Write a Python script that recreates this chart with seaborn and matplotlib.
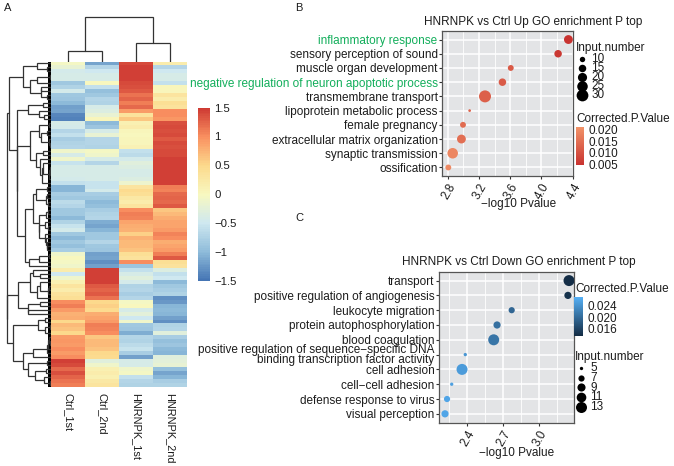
import numpy as np
import pandas as pd
import matplotlib
matplotlib.use("Agg")
import matplotlib.pyplot as plt
from matplotlib.cm import ScalarMappable
from matplotlib.colors import LinearSegmentedColormap, Normalize
import seaborn as sns

# ----- Panel A: heatmap rows, top to bottom -----
samples = ["Ctrl_1st", "Ctrl_2nd", "HNRNPK_1st", "HNRNPK_2nd"]
ctrl_1st = [-0.05, -0.2, -0.45, -0.42, -0.42, -0.85, -0.75, -0.45, -0.85, -0.9, -1.0, -1.2, -1.15, -1.35,
            -1.4, -0.4, -0.45, -0.7, -0.6, -0.8, -0.75, -0.7, -0.1, -0.4, -0.1, -0.55, -0.42, -0.42,
            -0.42, -0.45, -0.6, -1.05, -1.05, -0.8, -0.85, -0.65, -0.7, -0.85, -0.85, -1.0, -0.75, -0.55,
            -0.45, -0.85, -1.0, -0.85, -0.95, -0.8, -0.1, 0.0, -0.05, -0.1, 0.2, -0.5, -0.1,
            0.15, 0.3, 0.2, 0.35, 0.4, 1.0, 1.1, 0.9, 0.75, 0.8, 0.5, 0.7, 0.65, 0.5, 0.9, 0.95, 0.9,
            1.0, 0.9, 1.0, 1.45, 1.4, 1.2, 1.35, 1.25, 1.15, 1.1]
ctrl_2nd = [-1.15, -0.7, -0.5, -0.42, -0.42, 0.0, -0.6, -0.95, -0.85, -0.7, -0.75, -0.42, -0.35, -0.2,
            0.05, -1.0, -0.9, -0.4, -0.2, -0.7, -0.7, -0.75, -0.05, -0.1, -0.42, -0.7, -0.42, -0.42,
            -0.42, -0.42, -0.55, -0.55, -0.45, -0.8, -0.85, -1.0, -0.95, -0.8, -0.75, -0.7, -1.1, -1.15,
            -1.05, -0.85, -0.85, -0.7, -0.85, -0.9, -1.2, -1.15, -1.3, -1.2, 1.45, 1.45, 1.45,
            1.45, 1.3, 1.25, 1.3, 1.15, 0.5, 0.55, 0.45, 0.8, 0.85, 0.9, 1.1, 1.05, 1.0, 0.6, 0.7, 0.7,
            0.65, 0.5, 0.45, -0.3, -0.1, 0.15, 0.2, 0.15, 0.25, 0.3]
hnrnpk_1st = [1.4, 1.45, 1.45, 1.45, 1.45, 1.4, 1.35, 1.3, 1.15, 1.25, 1.1, 1.2, 0.9, 0.35,
              0.6, 0.15, 0.2, 0.05, 0.0, 0.05, 0.05, 0.1, -0.6, -0.65, -0.45, -0.3, -0.35, -0.42,
              -0.42, -0.35, -0.15, 0.3, 0.45, 0.4, 0.25, 0.2, 0.3, 1.0, 1.1, 1.05, 0.85, 0.8,
              0.75, 0.55, 0.75, 0.7, 0.7, 0.65, 0.4, 0.35, 1.0, -0.9, -0.6, -0.4, -0.3,
              -0.45, -0.75, -0.7, -0.8, -0.7, -0.05, 0.0, -0.4, -0.25, -0.5, -0.1, -0.85, -0.9, -1.1, -0.7,
              -0.75, -0.65, -0.55, -0.8, -1.2, -0.42, -0.4, -0.1, -0.05, -0.6, -0.7, -0.75]
hnrnpk_2nd = [0.2, -0.7, -0.5, -0.42, -0.42, -0.6, 0.05, 0.05, 0.3, 0.2, 0.4, 0.35, 1.0, 1.0,
              0.95, 1.35, 1.4, 1.35, 1.4, 1.3, 1.4, 1.35, 1.4, 1.4, 1.45, 1.45, 1.45, 1.45,
              1.45, 1.45, 1.45, 1.1, 1.05, 1.2, 1.25, 1.2, 1.3, 0.6, 0.7, 0.8, 0.85, 0.85,
              0.9, 1.05, 1.0, 0.8, 0.85, 0.9, 1.1, 1.3, 0.4, 0.35, -0.35, -0.6, -0.5,
              -1.0, -0.85, -0.8, -0.75, -1.3, -1.25, -1.05, -1.0, -1.05, -1.2, -1.3, -0.75, -0.7, -0.3, -0.8,
              -0.95, -0.9, -1.0, -1.05, -0.3, -0.25, -0.2, -0.95, -1.15, -1.05, -0.8, -0.75]
cbar_ticks = [-1.5, -1, -0.5, 0, 0.5, 1, 1.5]
cbar_labels = ["\u22121.5", "\u22121", "\u22120.5", "0", "0.5", "1", "1.5"]

# merge distances of the two dendrograms, (distance, child, child)
# a row leaf is (distance, first_row, stop_row) and gets clustered from the values
col_tree = (45, (11, 0, 1), (18.4, 2, 3))
row_tree = (44.5,
            (42,
             (28.3, (14, 0, 3), (21, 3, 10)),
             (34.3,
              (23, 10, 15),
              (34,
               (21, (12, 15, 22), (15, 22, 31)),
               (26, (18, 31, 48), (22, 48, 52))))),
            (44,
             (32.7, (21, 52, 60), (23, 60, 64)),
             (38.3, (13, 64, 69), (28.3, (18, 69, 75), (23.3, 75, 82)))))

# ----- Panel B -----
up_terms = ["inflammatory response", "sensory perception of sound", "muscle organ development",
            "negative regulation of neuron apoptotic process", "transmembrane transport",
            "lipoprotein metabolic process", "female pregnancy", "extracellular matrix organization",
            "synaptic transmission", "ossification"]
up_log10p = [4.345, 4.213, 3.607, 3.50, 3.277, 3.08, 2.995, 2.975, 2.863, 2.807]
up_input = [19, 15, 11, 15, 31, 6, 11, 19, 25, 11]
up_padj = [0.0048, 0.0056, 0.0115, 0.0115, 0.0125, 0.013, 0.0145, 0.015, 0.019, 0.0195]
up_green = ["inflammatory response", "negative regulation of neuron apoptotic process"]
up_xticks = [2.8, 3.2, 3.6, 4.0, 4.4]
up_size_keys = [10, 15, 20, 25, 30]
up_color_keys = [0.020, 0.015, 0.010, 0.005]

# ----- Panel C -----
down_terms = ["transport", "positive regulation of angiogenesis", "leukocyte migration",
              "protein autophosphorylation", "blood coagulation",
              "positive regulation of sequence\u2212specific DNA\nbinding transcription factor activity",
              "cell adhesion", "cell\u2212cell adhesion", "defense response to virus", "visual perception"]
down_log10p = [3.248, 3.239, 2.77, 2.648, 2.62, 2.383, 2.356, 2.27, 2.231, 2.214]
down_input = [13, 8, 7, 8, 13, 5, 13, 5, 7, 8]
down_padj = [0.0135, 0.014, 0.0195, 0.0205, 0.021, 0.0245, 0.025, 0.0255, 0.026, 0.026]
down_xticks = [2.4, 2.7, 3.0]
down_size_keys = [5, 7, 9, 11, 13]
down_color_keys = [0.024, 0.020, 0.016]

W, H = 674, 466
TEXT = "#1c1c1c"
sns.set_theme(style="white")
plt.rcParams["font.family"] = ["Liberation Sans", "DejaVu Sans"]
plt.rcParams["text.color"] = TEXT
FS = 8.5

fig = plt.figure(figsize=(W / 100, H / 100), dpi=100)


def px_axes(x0, y0, x1, y1):
    return fig.add_axes([x0 / W, 1 - y1 / H, (x1 - x0) / W, (y1 - y0) / H])


# ----- heatmap -----
heat_df = pd.DataFrame({"Ctrl_1st": ctrl_1st, "Ctrl_2nd": ctrl_2nd,
                        "HNRNPK_1st": hnrnpk_1st, "HNRNPK_2nd": hnrnpk_2nd})
heat_cmap = LinearSegmentedColormap.from_list(
    "pheat", ["#4575B4", "#8FBCDA", "#CFE8F0", "#F8F8C0", "#FCD98C", "#F99060", "#CE3A33"], N=100)
ax_heat = px_axes(51, 61.5, 187, 387)
ax_cbar = px_axes(198, 107.5, 210, 281)
sns.heatmap(heat_df, ax=ax_heat, cmap=heat_cmap, vmin=-1.5, vmax=1.5, cbar_ax=ax_cbar,
            yticklabels=False, xticklabels=samples)
ax_heat.tick_params(axis="x", length=0, pad=4)
plt.setp(ax_heat.get_xticklabels(), rotation=-90, ha="center", va="top", fontsize=7.9, color=TEXT)
ax_heat.set_xlabel("")
ax_cbar.set_yticks(cbar_ticks, cbar_labels)
ax_cbar.tick_params(length=0, pad=3, labelsize=8.2, labelcolor=TEXT)
ax_heat.collections[0].colorbar.outline.set_visible(False)


# ----- dendrograms -----
def connect(ax, a, b, h, vertical=False):
    hs = [a[0], h, h, b[0]]
    ps = [a[1], a[1], b[1], b[1]]
    if vertical:
        ax.plot(ps, hs, color="#333333", lw=0.9, solid_joinstyle="miter")
    else:
        ax.plot(hs, ps, color="#333333", lw=0.9, solid_joinstyle="miter")
    return h, (a[1] + b[1]) / 2


def cluster_rows(ax, values, start, stop, top):
    # neighbour-only average linkage so the rows stay in the order of the heatmap
    groups = [[i] for i in range(start, stop)]
    merges = []
    while len(groups) > 1:
        d = [np.linalg.norm(values[groups[i]].mean(axis=0) - values[groups[i + 1]].mean(axis=0))
             for i in range(len(groups) - 1)]
        k = int(np.argmin(d))
        merges.append((groups[k], groups[k + 1], d[k]))
        groups[k:k + 2] = [groups[k] + groups[k + 1]]
    peak = max(m[2] for m in merges) if merges else 1
    nodes = {(i,): (0.0, i + 0.5) for i in range(start, stop)}
    for left, right, d in merges:
        a, b = nodes[tuple(left)], nodes[tuple(right)]
        h = top * (d / peak) ** 1.3 if d < peak else top
        h = min(top, max(h, max(a[0], b[0]) + 0.7))
        nodes[tuple(left + right)] = connect(ax, a, b, h)
    return nodes[tuple(range(start, stop))]


def draw_row_tree(ax, node, values):
    if isinstance(node[1], tuple):
        a = draw_row_tree(ax, node[1], values)
        b = draw_row_tree(ax, node[2], values)
        return connect(ax, a, b, node[0])
    return cluster_rows(ax, values, node[1], node[2], node[0])


def draw_col_tree(ax, node):
    if isinstance(node[1], tuple):
        a = draw_col_tree(ax, node[1])
        b = draw_col_tree(ax, node[2])
    else:
        a, b = (0, node[1] + 0.5), (0, node[2] + 0.5)
    return connect(ax, a, b, node[0], vertical=True)


ax_rows = px_axes(5, 61.5, 51, 387)
draw_row_tree(ax_rows, row_tree, heat_df.to_numpy())
ax_rows.axvspan(0, 2.6, color="black", lw=0)  # leaf ends, too dense to tell apart
ax_rows.set_xlim(46, 0)
ax_rows.set_ylim(len(heat_df), 0)
ax_rows.axis("off")

ax_cols = px_axes(51, 15, 187, 61.5)
draw_col_tree(ax_cols, col_tree)
ax_cols.set_xlim(0, 4)
ax_cols.set_ylim(0, 46.5)
ax_cols.axis("off")


# ----- dot plots -----
def dot_panel(rect, terms, log10p, counts, padj, xticks, xlim, minor, cmap, hue_norm,
              sizes, size_norm, title, title_x, title_pad, label_x):
    ax = px_axes(*rect)
    df = pd.DataFrame({"term": terms, "log10p": log10p, "input": counts, "padj": padj})
    sns.scatterplot(data=df, x="log10p", y="term", hue="padj", palette=cmap, hue_norm=hue_norm,
                    size="input", sizes=sizes, size_norm=size_norm, linewidth=0, alpha=1,
                    legend=False, ax=ax, zorder=3)
    ax.set_facecolor("#E3E4E6")
    ax.set_xlim(*xlim)
    ax.set_ylim(len(terms) - 0.4, -0.6)
    ax.set_xticks(xticks)
    ax.set_xticks(minor, minor=True)
    ax.set_xticklabels([f"{t:.1f}" for t in xticks], rotation=60, ha="right", rotation_mode="anchor",
                       fontsize=FS, color=TEXT)
    ax.grid(which="major", color="white", lw=1.1)
    ax.grid(which="minor", axis="x", color="white", lw=0.6)
    ax.set_axisbelow(True)
    ax.tick_params(axis="x", which="major", length=2.2, width=0.8, color="#333333", pad=1.5, bottom=True)
    ax.tick_params(axis="x", which="minor", length=0)
    ax.tick_params(axis="y", length=2.2, width=0.8, color="#333333", pad=1.2, labelsize=FS, left=True)
    for s in ax.spines.values():
        s.set_color("#555555")
        s.set_linewidth(0.9)
    ax.set_ylabel("")
    ax.set_xlabel("\u2212log10 Pvalue", fontsize=FS, color=TEXT)
    ax.xaxis.set_label_coords(label_x[0], label_x[1])
    ax.set_title(title, fontsize=FS, color=TEXT, x=title_x, pad=title_pad)
    return ax


def size_legend(ax, keys, sizes, size_norm, x, y, spacing, title_y):
    lo, hi = size_norm
    handles = [ax.scatter([], [], s=sizes[0] + (sizes[1] - sizes[0]) * (k - lo) / (hi - lo), color="black",
                          linewidths=0) for k in keys]
    # the title is separate, a legend title would be pulled in by the negative spacing
    fig.text(x / W, 1 - title_y / H, "Input.number", fontsize=FS, color=TEXT, va="center", ha="left")
    return ax.legend(handles, [str(k) for k in keys], frameon=False,
                     loc="upper left", bbox_to_anchor=(x / W, 1 - y / H), bbox_transform=fig.transFigure,
                     fontsize=FS, borderpad=0, borderaxespad=0,
                     labelspacing=spacing, handlelength=1.0, handletextpad=0.3)


def color_legend(cmap, hue_norm, keys, rect, title, title_x, title_y):
    cax = px_axes(*rect)
    cb = fig.colorbar(ScalarMappable(Normalize(*hue_norm), cmap), cax=cax)
    cb.outline.set_visible(False)
    cb.set_ticks(keys, labels=[f"{k:.3f}" for k in keys])
    cax.tick_params(length=0, pad=3.0, labelsize=FS, labelcolor=TEXT)
    fig.text(title_x / W, 1 - title_y / H, title, fontsize=FS, color=TEXT, va="center", ha="left")


up_cmap = LinearSegmentedColormap.from_list("up", ["#C8322F", "#F29469"])
down_cmap = LinearSegmentedColormap.from_list("down", ["#132B43", "#56B1F7"])
up_sizes, up_norm = (3.8, 74.6), (6, 31)
down_sizes, down_norm = (5.7, 62.7), (5, 13)

ax_b = dot_panel((442.3, 31, 572.7, 176), up_terms, up_log10p, up_input, up_padj, up_xticks,
                 (2.73, 4.4), [3.0, 3.4, 3.8, 4.2], up_cmap, (0.0046, 0.0214), up_sizes, up_norm,
                 "HNRNPK vs Ctrl Up GO enrichment P top", 0.70, 4.5, (0.588, -0.15))
for lab in ax_b.get_yticklabels():
    lab.set_color("#12AE5B" if lab.get_text() in up_green else TEXT)

ax_c = dot_panel((439, 271.7, 573.7, 422.7), down_terms, down_log10p, down_input, down_padj, down_xticks,
                 (2.164, 3.287), [2.25, 2.55, 2.85, 3.15], down_cmap, (0.01325, 0.0273), down_sizes, down_norm,
                 "HNRNPK vs Ctrl Down GO enrichment P top", 0.594, 4.5, (0.577, -0.16))
for lab in ax_c.get_yticklabels():
    lab.set_color(TEXT)
    lab.set_linespacing(0.76)

size_legend(ax_b, up_size_keys, up_sizes, up_norm, 576, 53.5, -0.255, 47.7)
size_legend(ax_c, down_size_keys, down_sizes, down_norm, 575, 362, -0.19, 356.7)
color_legend(up_cmap, (0.0046, 0.0214), up_color_keys, (576, 126.7, 584, 165.3), "Corrected.P.Value", 576, 119)
color_legend(down_cmap, (0.01325, 0.0273), down_color_keys, (574, 296.7, 583, 336), "Corrected.P.Value", 575, 289)

for letter, x, y in [("A", 4, 8), ("B", 295, 8), ("C", 295, 218)]:
    fig.text(x / W, 1 - y / H, letter, fontsize=8, color=TEXT, va="center", ha="left")

fig.savefig("out.png", dpi=100)
